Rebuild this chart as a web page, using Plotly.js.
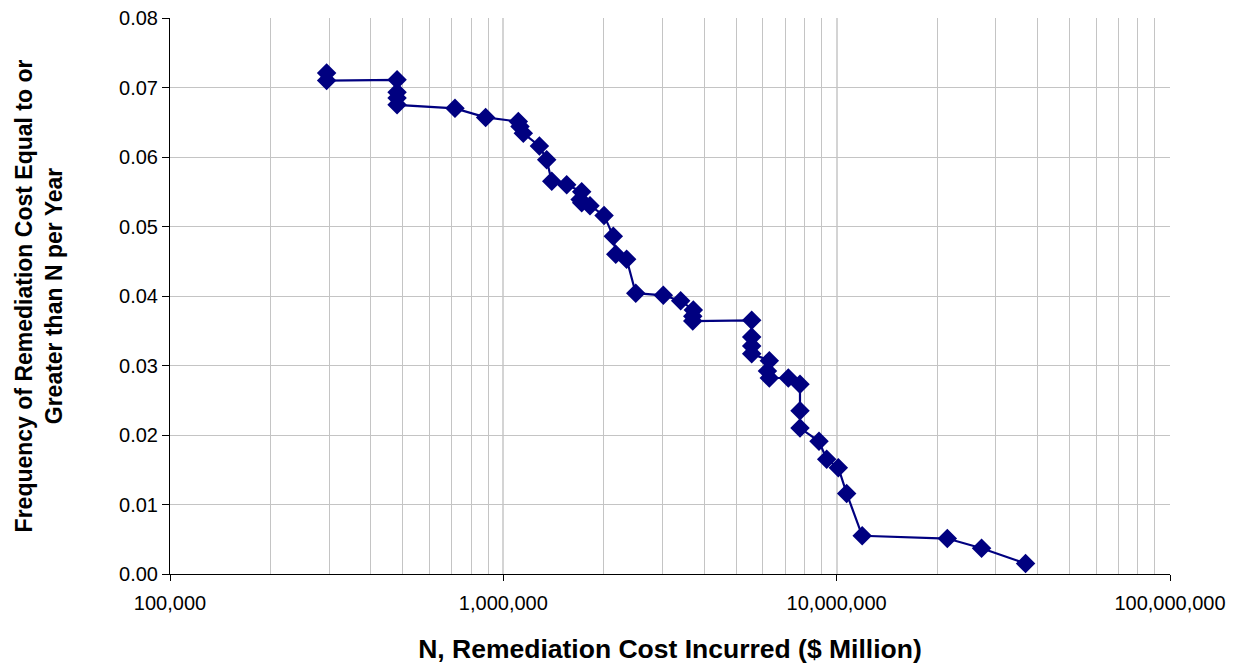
<!DOCTYPE html>
<html>
<head>
<meta charset="utf-8">
<script src="https://cdn.plot.ly/plotly-3.0.1.min.js"></script>
<style>html,body{margin:0;padding:0;background:#fff;}#chart{width:1250px;height:667px;}</style>
</head>
<body>
<div id="chart"></div>
<script>
// Remediation cost N (x) and exceedance frequency per year (y)
const costN = [
  295000, 295000, 480000, 480000, 480000, 480000, 716000, 885000,
  1109000, 1122000, 1148000, 1283000, 1349000, 1397000, 1549000, 1718000,
  1700000, 1718000, 1820000, 2005000, 2138000, 2174000, 2344000, 2496000,
  3020000, 3404000, 3715000, 3700000, 3700000, 5560000, 5560000, 5560000,
  5560000, 6280000, 6200000, 6280000, 7160000, 7762000, 7762000, 7762000,
  8850000, 9333000, 10115000, 10715000, 11930000, 21480000, 27210000, 36870000
];
const frequency = [
  0.0721, 0.0710, 0.0711, 0.0693, 0.0685, 0.0675, 0.0670, 0.0657,
  0.0651, 0.0644, 0.0634, 0.0616, 0.0596, 0.0565, 0.0560, 0.0550,
  0.0539, 0.0534, 0.0530, 0.0516, 0.0486, 0.0460, 0.0453, 0.0404,
  0.0401, 0.0393, 0.0380, 0.0371, 0.0364, 0.0365, 0.0341, 0.0328,
  0.0317, 0.0307, 0.0292, 0.0282, 0.0282, 0.0273, 0.0235, 0.0210,
  0.0191, 0.0165, 0.0153, 0.0116, 0.0055, 0.0051, 0.0037, 0.0015
];
const xTickVals = [100000, 1000000, 10000000, 100000000];
const xTickText = ["100,000", "1,000,000", "10,000,000", "100,000,000"];

const font = "Liberation Sans, Arial, sans-serif";
const trace = {
  x: costN, y: frequency, type: "scatter", mode: "lines+markers",
  line: {color: "#000080", width: 2.2},
  marker: {symbol: "diamond", size: 15, color: "#000080"},
  showlegend: false, hoverinfo: "x+y"
};
const layout = {
  width: 1250, height: 667,
  margin: {l: 170, r: 80, t: 18, b: 93},
  paper_bgcolor: "#fff", plot_bgcolor: "#fff",
  font: {family: font, size: 20, color: "#000"},
  xaxis: {
    type: "log", range: [5, 8],
    tickvals: xTickVals, ticktext: xTickText,
    showgrid: true, gridcolor: "#d4d4d4", gridwidth: 2,
    minor: {showgrid: true, gridcolor: "#c4c4c4", gridwidth: 1, dtick: "D1", ticks: ""},
    showline: true, linecolor: "#000", linewidth: 1,
    ticks: "outside", ticklen: 6, tickcolor: "#000",
    ticklabelstandoff: 5,
    zeroline: false,
    tickfont: {family: font, size: 20, color: "#000"},
    title: {text: "<b>N, Remediation Cost Incurred ($ Million)</b>", font: {family: font, size: 26.5, color: "#000"}, standoff: 26}
  },
  yaxis: {
    range: [0, 0.08], dtick: 0.01, tickformat: ".2f",
    showgrid: true, gridcolor: "#c4c4c4", gridwidth: 1,
    showline: true, linecolor: "#000", linewidth: 1,
    ticks: "outside", ticklen: 7, tickcolor: "#000",
    zeroline: false,
    tickfont: {family: font, size: 20, color: "#000"},
    title: {text: "<b>Frequency of Remediation Cost Equal to or<br>Greater than N per Year</b>", font: {family: font, size: 23, color: "#000"}, standoff: 50}
  }
};
Plotly.newPlot("chart", [trace], layout, {displayModeBar: false, staticPlot: true});
</script>
</body>
</html>
